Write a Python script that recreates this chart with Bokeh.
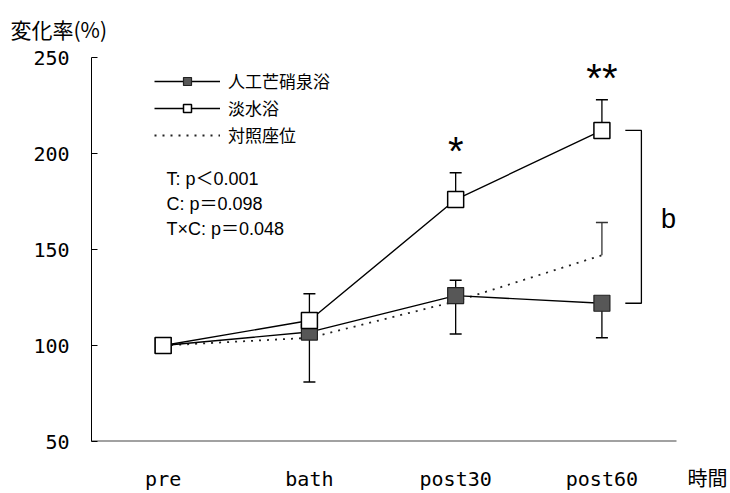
from bokeh.plotting import figure
from bokeh.models import Range1d, FixedTicker, Label, Legend, LegendItem, ColumnDataSource, Title
from bokeh.core.properties import value
from bokeh.embed import file_html
from bokeh.resources import INLINE

# ---- data ----
categories = ["pre", "bath", "post30", "post60"]
artificial = [100, 107, 126, 122]          # 人工芒硝泉浴
artificial_upper = [None, None, 134, None]
artificial_lower = [None, 81, 106, 104]
fresh = [100, 113, 176, 212]               # 淡水浴
fresh_upper = [None, 127, 190, 228]
control = [100, 104, 123, 147]             # 対照座位
control_upper = [None, None, None, 164]
sig_marks = ["", "", "*", "**"]
yticks = [50, 100, 150, 200, 250]
stats_lines = ["T: p＜0.001", "C: p＝0.098", "T×C: p＝0.048"]
series_labels = ["人工芒硝泉浴", "淡水浴", "対照座位"]
y_title = "変化率(%)"
x_title = "時間"

xs = list(range(len(categories)))

CJK = "Noto Sans CJK JP"
LAT = "Liberation Sans, Noto Sans CJK JP"
MONO = "DejaVu Sans Mono, Noto Sans CJK JP"

# layout: data x axis spans -0.49..3.51 over 585 px; frame continues to canvas edge
W, H = 728, 493
X0, X_AXIS_END = -0.49, 3.51
px_per_x = 585 / (X_AXIS_END - X0)
x_end = X_AXIS_END + (W - 676) / px_per_x
x_title_pos = X0 + (707 - 91) / px_per_x

p = figure(width=W, height=H, output_backend="svg", toolbar_location=None,
           x_range=Range1d(X0, x_end), y_range=Range1d(50, 250),
           min_border_left=91, min_border_right=0, min_border_top=57,
           min_border_bottom=H - 441)
p.grid.visible = False
p.outline_line_color = None
p.background_fill_color = "white"

# axes
p.yaxis.ticker = FixedTicker(ticks=yticks)
p.yaxis.major_tick_in = 6
p.yaxis.major_tick_out = 0
p.yaxis.minor_tick_line_color = None
p.yaxis.major_label_standoff = 22
p.yaxis.major_label_text_font = MONO
p.yaxis.major_label_text_font_size = "20px"
p.yaxis.major_label_text_color = "black"
p.yaxis.axis_line_color = "black"
p.yaxis.major_tick_line_color = "black"

overrides = {i: c for i, c in enumerate(categories)}
overrides[x_title_pos] = x_title
p.xaxis.ticker = FixedTicker(ticks=xs + [x_title_pos])
p.xaxis.major_label_overrides = overrides
p.xaxis.major_tick_in = 0
p.xaxis.major_tick_out = 0
p.xaxis.minor_tick_line_color = None
p.xaxis.major_label_standoff = 25
p.xaxis.major_label_text_font = MONO
p.xaxis.major_label_text_font_size = "20px"
p.xaxis.major_label_text_color = "black"
p.xaxis.axis_line_color = None
# visible part of the x axis line (ends where the reference axis ends)
p.segment(x0=[X0], y0=[yticks[0]], x1=[X_AXIS_END], y1=[yticks[0]],
          line_color="#444444", line_width=2)


def err_source(vals, bounds):
    x, y0, y1 = [], [], []
    for xi, v, b in zip(xs, vals, bounds):
        if b is not None:
            x.append(xi); y0.append(v); y1.append(b)
    return ColumnDataSource(dict(x=x, y0=y0, y1=y1))


# control (dotted)
ctrl_line = p.line(xs, control, line_color="#222222", line_width=1.8, line_dash="2 6")
cs = err_source(control, control_upper)
p.segment(x0="x", y0="y0", x1="x", y1="y1", source=cs, line_color="#333333", line_width=1.3)
p.scatter(x="x", y="y1", source=cs, marker="dash", size=12, line_color="#333333", line_width=1.5)

# artificial
art_line = p.line(xs, artificial, line_color="black", line_width=1.4)
for bounds in (artificial_upper, artificial_lower):
    s = err_source(artificial, bounds)
    p.segment(x0="x", y0="y0", x1="x", y1="y1", source=s, line_color="black", line_width=1.3)
    p.scatter(x="x", y="y1", source=s, marker="dash", size=12, line_color="black", line_width=1.5)

# fresh
fresh_line = p.line(xs, fresh, line_color="black", line_width=1.4)
fs = err_source(fresh, fresh_upper)
p.segment(x0="x", y0="y0", x1="x", y1="y1", source=fs, line_color="black", line_width=1.3)
p.scatter(x="x", y="y1", source=fs, marker="dash", size=12, line_color="black", line_width=1.5)

art_pts = p.scatter(xs, artificial, marker="square", size=16, fill_color="#575757",
                    line_color="#222222", line_width=1.2)
fresh_pts = p.scatter(xs, fresh, marker="square", size=16, fill_color="white",
                      line_color="black", line_width=1.5)

# significance asterisks above freshwater error bars
sig_src = ColumnDataSource(dict(
    x=[x for x, m in zip(xs, sig_marks) if m],
    y=[u for u, m in zip(fresh_upper, sig_marks) if m],
    t=[m for m in sig_marks if m]))
p.text(x="x", y="y", text="t", source=sig_src, text_font=value("Liberation Sans"),
       text_font_size="40px", text_align="center", text_baseline="alphabetic",
       text_color="black", y_offset=-22)

# bracket between post60 groups with "b"
bx0, bx1 = 3.16, 3.27
p.line([bx0, bx1, bx1, bx0], [fresh[3], fresh[3], artificial[3], artificial[3]],
       line_color="black", line_width=1.3)
p.add_layout(Label(x=3.455, y=166, text="b", text_font="Liberation Sans",
                   text_font_size="27px", text_align="center", text_baseline="middle",
                   text_color="black"))

# statistics text
pitch = 25 / 1.92
stats_src = ColumnDataSource(dict(
    x=[0.023] * len(stats_lines),
    y=[186.5 - i * pitch for i in range(len(stats_lines))],
    t=stats_lines))
p.text(x="x", y="y", text="t", source=stats_src, text_font=value(LAT),
       text_font_size="18px", text_align="left", text_baseline="middle", text_color="black")

# y axis title
p.add_layout(Title(text=y_title, align="left", offset=-81, standoff=24, vertical_align="top",
                   text_font=CJK, text_font_size="21px", text_font_style="normal",
                   text_color="black"), "above")

# legend
legend = Legend(items=[
    LegendItem(label=series_labels[0], renderers=[art_line, art_pts]),
    LegendItem(label=series_labels[1], renderers=[fresh_line, fresh_pts]),
    LegendItem(label=series_labels[2], renderers=[ctrl_line]),
], location=(63, 294), glyph_width=66, glyph_height=20, label_height=20,
    label_standoff=8, spacing=2, padding=0, margin=0,
    label_text_font=CJK, label_text_font_size="17px", label_text_color="black",
    border_line_color=None, background_fill_alpha=0)
p.add_layout(legend)

open("out.html", "w").write(file_html(p, INLINE))
